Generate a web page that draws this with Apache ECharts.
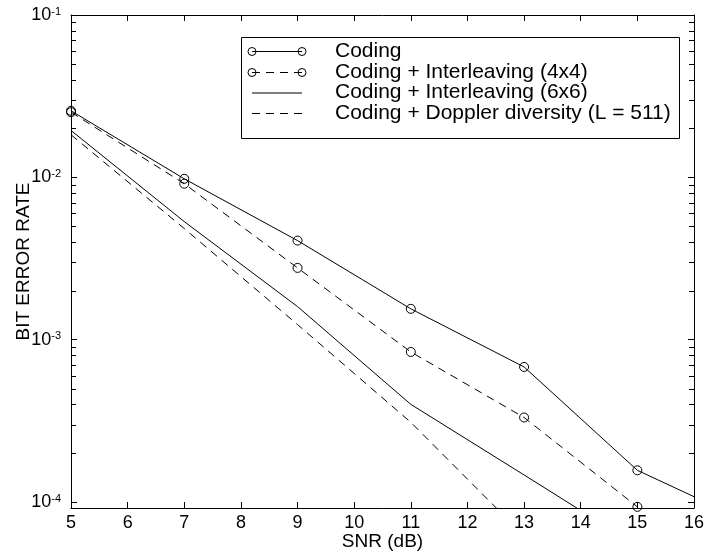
<!DOCTYPE html>
<html>
<head>
<meta charset="utf-8">
<script src="https://cdn.jsdelivr.net/npm/echarts@6/dist/echarts.min.js"></script>
<style>
html,body{margin:0;padding:0;background:#fff;}
#chart{width:704px;height:554px;}
</style>
</head>
<body>
<div id="chart"></div>
<script>
// ---- data ----
const snrCoding = [5, 7, 9, 11, 13, 15, 16];
const berCoding = [0.0257, 0.0098, 0.00408, 0.00155, 0.00068, 0.000157, 0.000108];
const snrIL4 = [5, 7, 9, 11, 13, 15];
const berIL4 = [0.0252, 0.00914, 0.00277, 0.000841, 0.000332, 0.0000935];
const snrIL6 = [5, 7, 9, 11, 13, 15];
const berIL6 = [0.01945, 0.00534, 0.0016, 0.0004, 0.000147, 0.0000537];
const snrDop = [5, 7, 9, 11, 13];
const berDop = [0.0183, 0.00484, 0.00124, 0.00031, 0.000062];
const legendNames = ['Coding', 'Coding + Interleaving (4x4)', 'Coding + Interleaving (6x6)', 'Coding + Doppler diversity (L = 511)'];
const xMin = 5, xMax = 16;
const yMin = 9.2e-5, yMax = 0.1;
const minorMultipliers = [2, 3, 4, 5, 6, 7, 8, 9];
const decadeStarts = [1e-5, 1e-4, 1e-3, 1e-2];

const FONT = '"Liberation Sans", Arial, Helvetica, sans-serif';
const minorTicks = [];
decadeStarts.forEach(d => minorMultipliers.forEach(m => {
  const v = d * m;
  if (v > yMin && v < yMax) minorTicks.push(v);
}));

function pairs(xs, ys) { return xs.map((x, i) => [x, ys[i]]); }

const chart = echarts.init(document.getElementById('chart'), null, {renderer: 'canvas'});

const markerStyle = {color: 'transparent', borderColor: '#000', borderWidth: 1};
const dash = [8, 6];

function yLabel(v) {
  const e = Math.round(Math.log10(v));
  if (Math.abs(v - Math.pow(10, e)) / v > 1e-6) return '';
  return '{b|10}{s|' + e + '}';
}

function legendGraphics() {
  const bx = 241.5, by = 37.5, bw = 438, bh = 101;
  const rows = [51, 72, 92.5, 113];
  const lx1 = 252, lx2 = 302, tx = 335;
  const els = [{
    type: 'rect', shape: {x: bx, y: by, width: bw, height: bh},
    style: {fill: '#fff', stroke: '#000', lineWidth: 1}, z: 100
  }];
  const styles = [
    {dash: null, marker: true}, {dash: dash, marker: true},
    {dash: null, marker: false}, {dash: dash, marker: false}
  ];
  rows.forEach((ry, i) => {
    const st = styles[i];
    els.push({
      type: 'line', shape: {x1: lx1, y1: ry + 0.5, x2: lx2, y2: ry + 0.5},
      style: {stroke: '#000', lineWidth: 1, lineDash: st.dash}, z: 101
    });
    if (st.marker) {
      [lx1, lx2].forEach(cx => els.push({
        type: 'circle', shape: {cx: cx, cy: ry + 0.5, r: 4},
        style: {fill: 'none', stroke: '#000', lineWidth: 1}, z: 102
      }));
    }
    els.push({
      type: 'text', x: tx, y: ry,
      style: {text: legendNames[i], font: '21px ' + FONT, fill: '#000', verticalAlign: 'middle'},
      z: 102
    });
  });
  return els;
}

const option = {
  animation: false,
  backgroundColor: '#fff',
  grid: {left: 71, right: 10, top: 15, bottom: 46, containLabel: false, outerBoundsMode: 'none'},
  xAxis: [{
    type: 'value', position: 'bottom', min: xMin, max: xMax, interval: 1,
    name: 'SNR (dB)', nameLocation: 'middle', nameGap: 24, nameMoveOverlap: false,
    nameTextStyle: {fontFamily: FONT, fontSize: 19, color: '#000'},
    axisLine: {show: true, lineStyle: {color: '#000', width: 1}},
    axisTick: {show: true, inside: true, length: 6, lineStyle: {color: '#000'}},
    axisLabel: {fontFamily: FONT, fontSize: 18, color: '#000', margin: 6},
    splitLine: {show: false}
  }, {
    type: 'value', position: 'top', min: xMin, max: xMax, interval: 1,
    axisLine: {show: true, lineStyle: {color: '#000', width: 1}},
    axisTick: {show: true, inside: true, length: 6, lineStyle: {color: '#000'}},
    axisLabel: {show: false},
    splitLine: {show: false}
  }],
  yAxis: [{
    type: 'log', logBase: 10, position: 'left', min: yMin, max: yMax,
    name: 'BIT ERROR RATE', nameLocation: 'middle', nameGap: 38, nameRotate: 90, nameMoveOverlap: false,
    nameTextStyle: {fontFamily: FONT, fontSize: 19, color: '#000'},
    axisLine: {show: true, lineStyle: {color: '#000', width: 1}},
    axisTick: {show: true, inside: true, length: 6, lineStyle: {color: '#000'}},
    axisLabel: {
      formatter: yLabel, margin: 10, color: '#000',
      rich: {
        b: {fontFamily: FONT, fontSize: 18, lineHeight: 18, padding: [6, 0, 6, 0], color: '#000'},
        s: {fontFamily: FONT, fontSize: 11, lineHeight: 11, verticalAlign: 'top', color: '#000'}
      }
    },
    splitLine: {show: false}
  }, {
    type: 'log', logBase: 10, position: 'right', min: yMin, max: yMax,
    axisLine: {show: true, lineStyle: {color: '#000', width: 1}},
    axisTick: {show: true, inside: true, length: 6, lineStyle: {color: '#000'}},
    axisLabel: {show: false},
    splitLine: {show: false}
  }],
  series: [
    {
      name: legendNames[0], type: 'line', xAxisIndex: 0, yAxisIndex: 0,
      data: pairs(snrCoding, berCoding).map((p, i) => i === snrCoding.length - 1 ? {value: p, symbol: 'none'} : p),
      symbol: 'circle', symbolSize: 9, showAllSymbol: true,
      lineStyle: {color: '#000', width: 1}, itemStyle: markerStyle, clip: true
    },
    {
      name: legendNames[1], type: 'line', xAxisIndex: 0, yAxisIndex: 0,
      data: pairs(snrIL4, berIL4),
      symbol: 'circle', symbolSize: 9, showAllSymbol: true,
      lineStyle: {color: '#000', width: 1, type: dash}, itemStyle: markerStyle, clip: true
    },
    {
      name: legendNames[2], type: 'line', xAxisIndex: 0, yAxisIndex: 0,
      data: pairs(snrIL6, berIL6), symbol: 'none',
      lineStyle: {color: '#000', width: 1}, clip: true
    },
    {
      name: legendNames[3], type: 'line', xAxisIndex: 0, yAxisIndex: 0,
      data: pairs(snrDop, berDop), symbol: 'none',
      lineStyle: {color: '#000', width: 1, type: dash}, clip: true
    }
  ],
  graphic: {elements: legendGraphics()}
};

chart.setOption(option);

// minor log ticks (left and right), positioned through the chart's own scales
const tickEls = [];
minorTicks.forEach((v) => {
  const pl = chart.convertToPixel({gridIndex: 0}, [xMin, v]);
  const pr = chart.convertToPixel({gridIndex: 0}, [xMax, v]);
  if (!pl || !pr || !isFinite(pl[1])) return;
  const y = Math.round(pl[1]);
  tickEls.push({type: 'rect', shape: {x: Math.round(pl[0]), y: y, width: 5, height: 1}, style: {fill: '#000'}, z: 150});
  tickEls.push({type: 'rect', shape: {x: Math.round(pr[0]) - 5, y: y, width: 5, height: 1}, style: {fill: '#000'}, z: 150});
});
chart.setOption({graphic: {elements: legendGraphics().concat(tickEls)}});
</script>
</body>
</html>
